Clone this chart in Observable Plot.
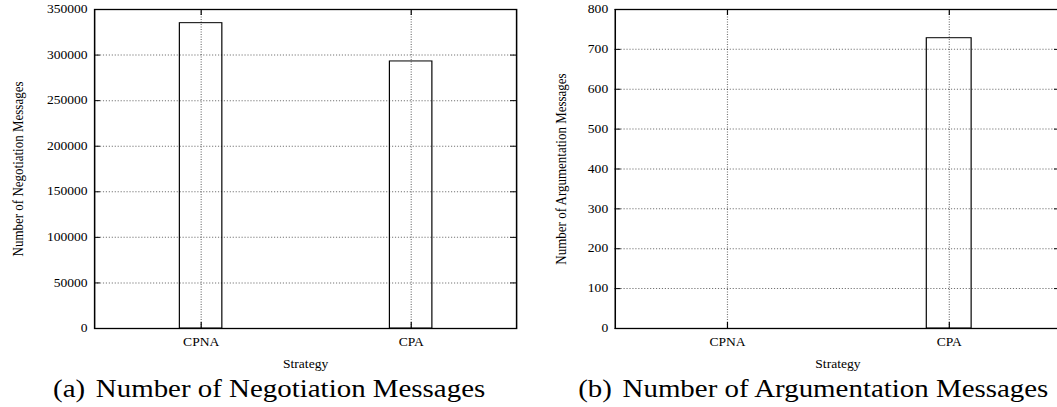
<!DOCTYPE html>
<html>
<head>
<meta charset="utf-8">
<script src="https://cdn.jsdelivr.net/npm/d3@7"></script>
<script src="https://cdn.jsdelivr.net/npm/@observablehq/plot@0.6"></script>
<style>
  html, body { margin: 0; padding: 0; background: #fff; overflow: hidden; width: 1057px; height: 407px; }
  #wrap { position: relative; width: 900px; height: 407px; background: #fff; transform: scaleX(1.18); transform-origin: 0 0; }
  .panel { position: absolute; top: 0; }
  .cap { position: absolute; top: 376px; font-family: "Liberation Serif", "Times New Roman", serif; font-size: 24.5px; line-height: 25px; color: #000; white-space: nowrap; }
  .cap .tag { margin-right: 9px; }
</style>
</head>
<body>
<div id="wrap">
  <div id="pa" class="panel" style="left:0px"></div>
  <div id="pb" class="panel" style="left:449px"></div>
  <div class="cap" style="left:45px"><span class="tag">(a)</span>Number of Negotiation Messages</div>
  <div class="cap" style="left:490px"><span class="tag">(b)</span>Number of Argumentation Messages</div>
</div>
<script>
const categories = ["CPNA", "CPA"];
const negotiationValues = [335000, 293000];
const argumentationValues = [0, 728];
const negotiationTicks = [0, 50000, 100000, 150000, 200000, 250000, 300000, 350000];
const argumentationTicks = [0, 100, 200, 300, 400, 500, 600, 700, 800];
const xLabel = "Strategy";
const negotiationLabel = "Number of Negotiation Messages";
const argumentationLabel = "Number of Argumentation Messages";

function panel({values, ticks, label, width, height, marginLeft, marginRight, marginTop, marginBottom, labelDx}) {
  const data = categories.map((c, i) => ({strategy: c, value: values[i]}));
  const plotW = width - marginLeft - marginRight;
  const plotH = height - marginTop - marginBottom;
  const grid = {stroke: "#000", strokeOpacity: 0.55, strokeDasharray: "1,1.5", strokeWidth: 1};
  return Plot.plot({
    width, height, marginLeft, marginRight, marginTop, marginBottom,
    style: {fontFamily: '"Liberation Serif", "Times New Roman", serif', fontSize: "11.5px", color: "#000", background: "#fff", overflow: "visible"},
    x: {type: "band", domain: categories, paddingInner: 0.8, paddingOuter: 0.4},
    y: {domain: [ticks[0], ticks[ticks.length - 1]]},
    marks: [
      Plot.gridY(ticks, grid),
      Plot.gridX(categories, grid),
      Plot.barY(data, {x: "strategy", y: "value", fill: "none", stroke: "#000", strokeWidth: 1}),
      Plot.tickY(ticks, {y: d => d, insetRight: plotW - 5, stroke: "#000"}),
      Plot.tickY(ticks, {y: d => d, insetLeft: plotW - 5, stroke: "#000"}),
      Plot.tickX(categories, {x: d => d, insetTop: plotH - 6, stroke: "#000"}),
      Plot.tickX(categories, {x: d => d, insetBottom: plotH - 6, stroke: "#000"}),
      Plot.frame({stroke: "#000", strokeWidth: 1.3}),
      Plot.axisY(ticks, {tickSize: 0, tickPadding: 6, tickFormat: d3.format("d"), label: null, fontSize: 11.5}),
      Plot.axisX({tickSize: 0, tickPadding: 9, label: null, fontSize: 11.5}),
      Plot.text([label], {frameAnchor: "left", textAnchor: "middle", lineAnchor: "middle", dx: labelDx, rotate: -90, fontSize: 13}),
      Plot.text([xLabel], {frameAnchor: "bottom", textAnchor: "middle", lineAnchor: "middle", dy: 35.5, fontSize: 11.5})
    ]
  });
}

document.getElementById("pa").appendChild(panel({
  values: negotiationValues, ticks: negotiationTicks, label: negotiationLabel,
  width: 449, height: 372, marginLeft: 79.7, marginRight: 11.7, marginTop: 9, marginBottom: 44, labelDx: -65.3
}));
document.getElementById("pb").appendChild(panel({
  values: argumentationValues, ticks: argumentationTicks, label: argumentationLabel,
  width: 449.3, height: 372, marginLeft: 71.9, marginRight: 0, marginTop: 9, marginBottom: 44, labelDx: -46.3
}));
</script>
</body>
</html>
